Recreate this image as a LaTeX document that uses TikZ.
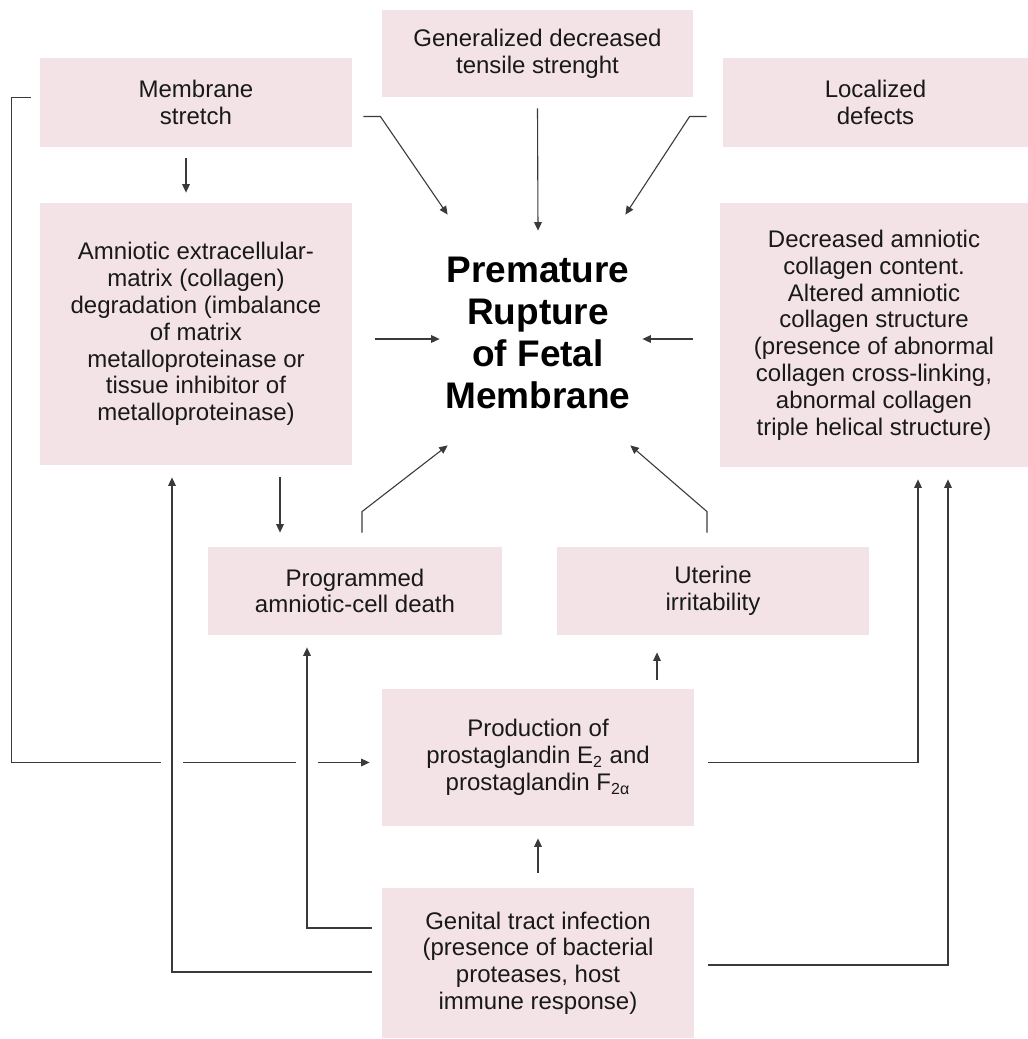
\documentclass[tikz,border=0pt]{standalone}
\usepackage{fontspec}
\setmainfont{Liberation Sans}
\usepackage{tikz}
\usetikzlibrary{arrows.meta}
\usetikzlibrary{calc}
\definecolor{boxpink}{HTML}{F3E3E6}
\definecolor{inkgray}{HTML}{3A3A3A}
\tikzset{
  box/.style={fill=boxpink, align=center, inner sep=0pt, text=black!90,
    font=\fontsize{12}{13.4}\selectfont},
  link/.style={draw=inkgray, line width=0.55pt},
  flow/.style={link, -{Triangle[length=4.2pt,width=3.8pt]}},
  bridge/.style={preaction={draw=white, line width=11pt, arrows=-}},
}
\begin{document}
\begin{tikzpicture}[x=0.5pt,y=-0.5pt]
	\useasboundingbox (0,0) rectangle (1028,1039);

	\node[box, minimum width=156pt, minimum height=44.5pt] (stretch) at (196,102.5) {Membrane\\stretch};
	\node[box, minimum width=155.5pt, minimum height=43.5pt] (tensile) at (537.5,53.5) {Generalized decreased\\tensile strenght};
	\node[box, minimum width=152.5pt, minimum height=44.5pt] (defects) at (875.5,102.5) {Localized\\defects};
	\node[box, minimum width=156pt, minimum height=131pt] (degradation) at (196,334) {Amniotic extracellular-\\matrix (collagen)\\degradation (imbalance\\of matrix\\metalloproteinase or\\tissue inhibitor of\\metalloproteinase)};
	\node[box, minimum width=154pt, minimum height=132pt] (collagen) at (874,335) {Decreased amniotic\\collagen content.\\Altered amniotic\\collagen structure\\(presence of abnormal\\collagen cross-linking,\\abnormal collagen\\triple helical structure)};
	\node[align=center, inner sep=0pt, minimum width=100pt, minimum height=115pt,
		font=\bfseries\fontsize{18.5}{21}\selectfont] (title) at (538,333) {Premature\\Rupture\\of Fetal\\Membrane};
	\node[box, minimum width=147pt, minimum height=44pt] (apoptosis) at (355,591) {Programmed\\amniotic-cell death};
	\node[box, minimum width=156pt, minimum height=44pt] (irritability) at (713,591) {Uterine\\irritability};
	\node[box, minimum width=156pt, minimum height=68.5pt] (prostaglandin) at (538,757.5) {Production of\\prostaglandin E\textsubscript{2} and\\prostaglandin F\textsubscript{2α}};
	\node[box, minimum width=156pt, minimum height=75pt] (infection) at (538,963) {Genital tract infection\\(presence of bacterial\\proteases, host\\immune response)};

	\draw[flow] ([shift={(-10,11)}]stretch.south) -- ([shift={(-10,-10)}]degradation.north);
	\draw[flow] ([shift={(11,14)}]stretch.east) -- ++(17,0) -- ([shift={(10,-3)}]title.north west);
	\draw[flow] ([yshift=-5.5pt]tensile.south) -- ([yshift=-6.5pt]title.north);
	\draw[flow] ([shift={(-16,14)}]defects.west) -- ++(-17,0) -- ([shift={(-13,-3)}]title.north east);
	\draw[flow] ([shift={(23,5)}]degradation.east) -- ([shift={(2,6)}]title.west);
	\draw[flow] ([shift={(-27,4)}]collagen.west) -- ([shift={(4,6)}]title.east);
	\draw[flow] ([shift={(84,12)}]degradation.south) -- ([shift={(-75,-14)}]apoptosis.north);
	\draw[flow] ([shift={(7,-14)}]apoptosis.north) -- ++(0,-21) -- ([shift={(10,-3)}]title.south west);
	\draw[flow] ([shift={(-6,-14)}]irritability.north) -- ++(0,-21) -- ([shift={(-8,-3)}]title.south east);
	\draw[flow] ([shift={(119,-9)}]prostaglandin.north) -- ([shift={(-56,17)}]irritability.south);
	\draw[flow] ([yshift=7.5pt]infection.north) -- ([yshift=-6pt]prostaglandin.south);

	\draw[flow] ([shift={(-9,-5)}]stretch.west) -- ++(-19,0) |- ([shift={(-12,5)}]prostaglandin.west);
	\draw[flow,bridge] ([shift={(-10,9)}]infection.west) -| ([shift={(-24,12)}]degradation.south);
	\draw[flow,bridge] ([shift={(-10,-35)}]infection.west) -| ([shift={(-48,12)}]apoptosis.south);
	\draw[flow] ([shift={(14,5)}]prostaglandin.east) -| ([shift={(44,12)}]collagen.south);
	\draw[flow] ([shift={(14,2)}]infection.east) -| ([shift={(74,12)}]collagen.south);
\end{tikzpicture}
\end{document}
